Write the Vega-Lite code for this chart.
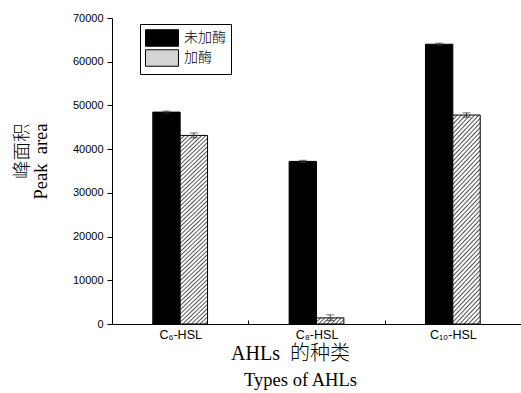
{
  "$schema": "https://vega.github.io/schema/vega-lite/v6.json",
  "autosize": "none",
  "width": 409,
  "height": 306,
  "padding": {"left": 112, "top": 18, "right": 0, "bottom": 69},
  "background": "white",
  "config": {"view": {"stroke": null}},
  "title": {"text": "Types of AHLs", "orient": "bottom", "anchor": "middle", "dx": -16, "offset": 8, "font": "Liberation Serif", "fontSize": 18.5, "fontWeight": "normal", "color": "black"},
  "data": {"values": [
    {"type": "C₆-HSL", "group": "未加酶", "value": 48470, "lo": 48250, "hi": 48700},
    {"type": "C₆-HSL", "group": "加酶", "value": 43140, "lo": 42600, "hi": 43700},
    {"type": "C₈-HSL", "group": "未加酶", "value": 37200, "lo": 36950, "hi": 37450},
    {"type": "C₈-HSL", "group": "加酶", "value": 1400, "lo": 800, "hi": 2100},
    {"type": "C₁₀-HSL", "group": "未加酶", "value": 64000, "lo": 63800, "hi": 64250},
    {"type": "C₁₀-HSL", "group": "加酶", "value": 47800, "lo": 47300, "hi": 48300}
  ]},
  "layer": [
    {
      "mark": {"type": "bar", "stroke": "black", "strokeWidth": 1},
      "encoding": {
        "x": {
          "field": "type", "type": "nominal",
          "sort": ["C₆-HSL", "C₈-HSL", "C₁₀-HSL"],
          "scale": {"paddingInner": 0, "paddingOuter": 0},
          "axis": {
            "title": "AHLs\u2002的种类",
            "titleFont": "Liberation Serif, Noto Sans CJK SC",
            "titleFontSize": 20, "titleFontWeight": 300, "titleColor": "black",
            "titleX": 178, "titleY": 19, "titleBaseline": "top", "titleAlign": "center",
            "labelAngle": 0, "labelFont": "Liberation Sans", "labelFontSize": 12.5, "labelColor": "black",
            "labelPadding": 8, "tickBand": "extent", "tickSize": -4,
            "domainColor": "black", "tickColor": "black"
          }
        },
        "xOffset": {"field": "group", "sort": ["未加酶", "加酶"], "scale": {"domain": ["L", "未加酶", "加酶", "R"], "paddingInner": 0, "paddingOuter": 0.49}},
        "y": {
          "field": "value", "type": "quantitative",
          "scale": {"domain": [0, 70000], "nice": false},
          "axis": {
            "values": [0, 5000, 10000, 15000, 20000, 25000, 30000, 35000, 40000, 45000, 50000, 55000, 60000, 65000, 70000],
            "format": "d",
            "labelExpr": "datum.value % 10000 === 0 ? datum.label : ''",
            "tickSize": {"condition": {"test": "datum.value % 10000 === 0", "value": 5}, "value": 3},
            "grid": false, "domainColor": "black", "tickColor": "black",
            "labelFont": "Liberation Sans", "labelFontSize": 11, "labelColor": "black", "labelPadding": 4,
            "title": ["峰面积", "Peak\u2002area"],
            "titleFont": "Liberation Serif, Noto Sans CJK SC",
            "titleFontSize": 18.5, "titleFontWeight": 300, "titleColor": "black",
            "titleAngle": -90, "titleAlign": "right", "titleBaseline": "top",
            "titleX": -100, "titleY": 105, "titleLineHeight": 19
          }
        },
        "fill": {
          "field": "group", "type": "nominal",
          "scale": {"domain": ["未加酶", "加酶"], "range": ["black", "#d4d4d4"]},
          "condition": [
            {"test": "datum.group === '加酶' && datum.value < 5000", "value": {"gradient": "linear", "x1": 0, "y1": 0, "x2": 1.2, "y2": 0.264, "stops": [
              {"offset": 0, "color": "#555"}, {"offset": 0.04, "color": "#fff"}, {"offset": 0.08, "color": "#fff"},
              {"offset": 0.12, "color": "#555"}, {"offset": 0.16, "color": "#fff"}, {"offset": 0.2, "color": "#fff"},
              {"offset": 0.24, "color": "#555"}, {"offset": 0.28, "color": "#fff"}, {"offset": 0.32, "color": "#fff"},
              {"offset": 0.36, "color": "#555"}, {"offset": 0.4, "color": "#fff"}, {"offset": 0.44, "color": "#fff"},
              {"offset": 0.48, "color": "#555"}, {"offset": 0.52, "color": "#fff"}, {"offset": 0.56, "color": "#fff"},
              {"offset": 0.6, "color": "#555"}, {"offset": 0.64, "color": "#fff"}, {"offset": 0.68, "color": "#fff"},
              {"offset": 0.72, "color": "#555"}, {"offset": 0.76, "color": "#fff"}, {"offset": 0.8, "color": "#fff"},
              {"offset": 0.84, "color": "#555"}, {"offset": 0.88, "color": "#fff"}, {"offset": 0.92, "color": "#fff"},
              {"offset": 0.96, "color": "#555"}, {"offset": 1, "color": "#fff"}
            ]}},
            {"test": "datum.group === '加酶'", "value": {"gradient": "linear", "x1": 0, "y1": 0, "x2": 1, "y2": 7.2, "stops": [
              {"offset": 0, "color": "#555"}, {"offset": 0.001, "color": "#fff"}, {"offset": 0.002, "color": "#fff"},
              {"offset": 0.003, "color": "#555"}, {"offset": 0.004, "color": "#fff"}, {"offset": 0.005, "color": "#fff"},
              {"offset": 0.006, "color": "#555"}, {"offset": 0.007, "color": "#fff"}, {"offset": 0.008, "color": "#fff"},
              {"offset": 0.009, "color": "#555"}, {"offset": 0.01, "color": "#fff"}, {"offset": 0.011, "color": "#fff"},
              {"offset": 0.012, "color": "#555"}, {"offset": 0.013, "color": "#fff"}, {"offset": 0.014, "color": "#fff"},
              {"offset": 0.015, "color": "#555"}, {"offset": 0.016, "color": "#fff"}, {"offset": 0.017, "color": "#fff"},
              {"offset": 0.018, "color": "#555"}, {"offset": 0.019, "color": "#fff"}, {"offset": 0.02, "color": "#fff"},
              {"offset": 0.021, "color": "#555"}, {"offset": 0.022, "color": "#fff"}, {"offset": 0.023, "color": "#fff"},
              {"offset": 0.024, "color": "#555"}, {"offset": 0.025, "color": "#fff"}, {"offset": 0.026, "color": "#fff"},
              {"offset": 0.027, "color": "#555"}, {"offset": 0.028, "color": "#fff"}, {"offset": 0.029, "color": "#fff"},
              {"offset": 0.03, "color": "#555"}, {"offset": 0.031, "color": "#fff"}, {"offset": 0.032, "color": "#fff"},
              {"offset": 0.033, "color": "#555"}, {"offset": 0.034, "color": "#fff"}, {"offset": 0.035, "color": "#fff"},
              {"offset": 0.036, "color": "#555"}, {"offset": 0.037, "color": "#fff"}, {"offset": 0.038, "color": "#fff"},
              {"offset": 0.039, "color": "#555"}, {"offset": 0.04, "color": "#fff"}, {"offset": 0.041, "color": "#fff"},
              {"offset": 0.042, "color": "#555"}, {"offset": 0.043, "color": "#fff"}, {"offset": 0.044, "color": "#fff"},
              {"offset": 0.045, "color": "#555"}, {"offset": 0.046, "color": "#fff"}, {"offset": 0.047, "color": "#fff"},
              {"offset": 0.048, "color": "#555"}, {"offset": 0.049, "color": "#fff"}, {"offset": 0.05, "color": "#fff"},
              {"offset": 0.051, "color": "#555"}, {"offset": 0.052, "color": "#fff"}, {"offset": 0.053, "color": "#fff"},
              {"offset": 0.054, "color": "#555"}, {"offset": 0.055, "color": "#fff"}, {"offset": 0.056, "color": "#fff"},
              {"offset": 0.057, "color": "#555"}, {"offset": 0.058, "color": "#fff"}, {"offset": 0.059, "color": "#fff"},
              {"offset": 0.06, "color": "#555"}, {"offset": 0.061, "color": "#fff"}, {"offset": 0.062, "color": "#fff"},
              {"offset": 0.063, "color": "#555"}, {"offset": 0.064, "color": "#fff"}, {"offset": 0.065, "color": "#fff"},
              {"offset": 0.066, "color": "#555"}, {"offset": 0.067, "color": "#fff"}, {"offset": 0.068, "color": "#fff"},
              {"offset": 0.069, "color": "#555"}, {"offset": 0.07, "color": "#fff"}, {"offset": 0.071, "color": "#fff"},
              {"offset": 0.072, "color": "#555"}, {"offset": 0.073, "color": "#fff"}, {"offset": 0.074, "color": "#fff"},
              {"offset": 0.075, "color": "#555"}, {"offset": 0.076, "color": "#fff"}, {"offset": 0.077, "color": "#fff"},
              {"offset": 0.078, "color": "#555"}, {"offset": 0.079, "color": "#fff"}, {"offset": 0.08, "color": "#fff"},
              {"offset": 0.081, "color": "#555"}, {"offset": 0.082, "color": "#fff"}, {"offset": 0.083, "color": "#fff"},
              {"offset": 0.084, "color": "#555"}, {"offset": 0.085, "color": "#fff"}, {"offset": 0.086, "color": "#fff"},
              {"offset": 0.087, "color": "#555"}, {"offset": 0.088, "color": "#fff"}, {"offset": 0.089, "color": "#fff"},
              {"offset": 0.09, "color": "#555"}, {"offset": 0.091, "color": "#fff"}, {"offset": 0.092, "color": "#fff"},
              {"offset": 0.093, "color": "#555"}, {"offset": 0.094, "color": "#fff"}, {"offset": 0.095, "color": "#fff"},
              {"offset": 0.096, "color": "#555"}, {"offset": 0.097, "color": "#fff"}, {"offset": 0.098, "color": "#fff"},
              {"offset": 0.099, "color": "#555"}, {"offset": 0.1, "color": "#fff"}, {"offset": 0.101, "color": "#fff"},
              {"offset": 0.102, "color": "#555"}, {"offset": 0.103, "color": "#fff"}, {"offset": 0.104, "color": "#fff"},
              {"offset": 0.105, "color": "#555"}, {"offset": 0.106, "color": "#fff"}, {"offset": 0.107, "color": "#fff"},
              {"offset": 0.108, "color": "#555"}, {"offset": 0.109, "color": "#fff"}, {"offset": 0.11, "color": "#fff"},
              {"offset": 0.111, "color": "#555"}, {"offset": 0.112, "color": "#fff"}, {"offset": 0.113, "color": "#fff"},
              {"offset": 0.114, "color": "#555"}, {"offset": 0.115, "color": "#fff"}, {"offset": 0.116, "color": "#fff"},
              {"offset": 0.117, "color": "#555"}, {"offset": 0.118, "color": "#fff"}, {"offset": 0.119, "color": "#fff"},
              {"offset": 0.12, "color": "#555"}, {"offset": 0.121, "color": "#fff"}, {"offset": 0.122, "color": "#fff"},
              {"offset": 0.123, "color": "#555"}, {"offset": 0.124, "color": "#fff"}, {"offset": 0.125, "color": "#fff"},
              {"offset": 0.126, "color": "#555"}, {"offset": 0.127, "color": "#fff"}, {"offset": 0.128, "color": "#fff"},
              {"offset": 0.129, "color": "#555"}, {"offset": 0.13, "color": "#fff"}, {"offset": 0.131, "color": "#fff"},
              {"offset": 0.132, "color": "#555"}, {"offset": 0.133, "color": "#fff"}, {"offset": 0.134, "color": "#fff"},
              {"offset": 0.135, "color": "#555"}, {"offset": 0.136, "color": "#fff"}, {"offset": 0.137, "color": "#fff"},
              {"offset": 0.138, "color": "#555"}, {"offset": 0.139, "color": "#fff"}, {"offset": 0.14, "color": "#fff"},
              {"offset": 0.141, "color": "#555"}, {"offset": 0.142, "color": "#fff"}, {"offset": 0.143, "color": "#fff"},
              {"offset": 0.144, "color": "#555"}, {"offset": 0.145, "color": "#fff"}, {"offset": 0.146, "color": "#fff"},
              {"offset": 0.147, "color": "#555"}, {"offset": 0.148, "color": "#fff"}, {"offset": 0.149, "color": "#fff"},
              {"offset": 0.15, "color": "#555"}, {"offset": 0.151, "color": "#fff"}, {"offset": 0.152, "color": "#fff"},
              {"offset": 0.153, "color": "#555"}, {"offset": 0.154, "color": "#fff"}, {"offset": 0.155, "color": "#fff"},
              {"offset": 0.156, "color": "#555"}, {"offset": 0.157, "color": "#fff"}, {"offset": 0.158, "color": "#fff"},
              {"offset": 0.159, "color": "#555"}, {"offset": 0.16, "color": "#fff"}, {"offset": 0.161, "color": "#fff"},
              {"offset": 0.162, "color": "#555"}, {"offset": 0.163, "color": "#fff"}, {"offset": 0.164, "color": "#fff"},
              {"offset": 0.165, "color": "#555"}, {"offset": 0.166, "color": "#fff"}, {"offset": 0.167, "color": "#fff"},
              {"offset": 0.168, "color": "#555"}, {"offset": 0.169, "color": "#fff"}, {"offset": 0.17, "color": "#fff"},
              {"offset": 0.171, "color": "#555"}
            ]}}
          ],
          "legend": {
            "orient": "none", "legendX": 28, "legendY": 6,
            "title": null,
            "symbolType": "M-2,-1H2V1H-2Z", "symbolSize": 272,
            "symbolOffset": 8, "symbolStrokeColor": "black", "symbolStrokeWidth": 1,
            "labelExpr": "datum.value === '加酶' ? '\u00a0加酶\u00a0\u00a0' : '未加酶\u00a0\u00a0'",
            "labelFont": "Noto Sans CJK SC", "labelFontSize": 14, "labelFontWeight": 300, "labelColor": "black", "labelOffset": 13,
            "strokeColor": "black", "fillColor": "white", "padding": 5, "rowPadding": -4.5
          }
        }
      }
    },
    {
      "mark": {"type": "rule", "color": "#333", "strokeWidth": 1},
      "encoding": {
        "x": {"field": "type", "type": "nominal", "sort": ["C₆-HSL", "C₈-HSL", "C₁₀-HSL"]},
        "xOffset": {"field": "group", "sort": ["未加酶", "加酶"]},
        "y": {"field": "lo", "type": "quantitative"},
        "y2": {"field": "hi"}
      }
    },
    {
      "mark": {"type": "tick", "orient": "horizontal", "size": 8, "thickness": 1, "color": "#333"},
      "encoding": {
        "x": {"field": "type", "type": "nominal", "sort": ["C₆-HSL", "C₈-HSL", "C₁₀-HSL"]},
        "xOffset": {"field": "group", "sort": ["未加酶", "加酶"]},
        "y": {"field": "hi", "type": "quantitative"}
      }
    },
    {
      "mark": {"type": "tick", "orient": "horizontal", "size": 8, "thickness": 1, "color": "#333"},
      "encoding": {
        "x": {"field": "type", "type": "nominal", "sort": ["C₆-HSL", "C₈-HSL", "C₁₀-HSL"]},
        "xOffset": {"field": "group", "sort": ["未加酶", "加酶"]},
        "y": {"field": "lo", "type": "quantitative"}
      }
    }
  ]
}
